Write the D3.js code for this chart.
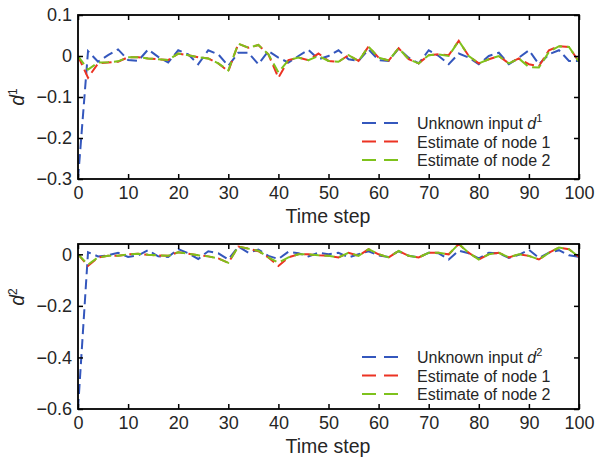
<!DOCTYPE html>
<html><head><meta charset="utf-8">
<script src="https://cdn.jsdelivr.net/npm/d3@7"></script>
<style>body{margin:0;background:#fff}svg{display:block;font-family:"Liberation Sans",Arial,sans-serif}</style>
</head><body><div id="c"></div>
<script>
const steps = d3.range(0, 101, 2);
const xTicks = [0,10,20,30,40,50,60,70,80,90,100];
const yTicks1 = [0.1, 0, -0.1, -0.2, -0.3];
const yTicks2 = [0, -0.2, -0.4, -0.6];
const legendNames = ["Unknown input ", "Estimate of node 1", "Estimate of node 2"];

const d1True = [-0.30,0.012,-0.014,0.002,0.016,-0.010,-0.012,0.016,-0.002,-0.016,0.014,0.004,-0.020,0.014,0.004,-0.024,0.008,0.008,-0.020,0.012,-0.004,-0.016,0.000,0.015,-0.008,0.000,0.014,-0.008,-0.012,0.016,-0.010,-0.012,0.018,-0.004,-0.018,0.014,0.000,-0.020,0.006,-0.004,-0.020,0.000,0.008,-0.020,-0.004,0.014,-0.020,0.004,0.014,-0.012,-0.012];
const d1Node1 = [0,-0.053,-0.018,-0.016,-0.014,-0.003,-0.003,-0.006,-0.008,-0.010,0.006,0.002,-0.003,-0.006,-0.018,-0.037,0.030,0.020,0.027,0.004,-0.053,-0.010,-0.004,-0.010,0.006,-0.012,-0.014,0.002,-0.012,0.023,-0.004,-0.011,0.019,-0.008,-0.018,0.002,0.004,0.002,0.037,0.000,-0.018,-0.008,0.000,-0.018,-0.006,-0.020,-0.025,0.014,0.024,0.022,-0.014];
const d1Node2 = [0,-0.033,-0.016,-0.015,-0.013,-0.003,-0.003,-0.006,-0.008,-0.010,0.006,0.002,-0.003,-0.006,-0.018,-0.035,0.030,0.020,0.027,0.004,-0.040,-0.010,-0.004,-0.010,0.000,-0.012,-0.014,0.002,-0.012,0.023,-0.004,-0.011,0.019,-0.008,-0.018,0.002,0.004,0.000,0.037,0.000,-0.018,-0.008,0.000,-0.018,-0.006,-0.027,-0.028,0.010,0.024,0.022,-0.014];

const d2True = [-0.6,0.008,-0.008,-0.004,0.006,-0.010,-0.004,0.016,-0.008,-0.010,0.020,0.004,-0.018,0.012,0.004,-0.020,0.030,0.006,0.018,-0.006,-0.018,0.010,0.004,-0.008,0.006,0.000,0.006,-0.012,0.000,0.012,-0.004,-0.010,0.012,-0.006,-0.012,0.006,0.004,-0.020,0.014,0.004,-0.016,0.006,0.004,-0.014,-0.002,0.018,-0.014,0.006,0.016,-0.004,-0.010];
const d2Node1 = [0,-0.045,-0.012,-0.006,-0.006,0.000,0.002,-0.002,-0.004,-0.006,0.008,0.002,-0.004,-0.008,-0.016,-0.033,0.030,0.022,0.012,-0.012,-0.045,-0.012,0.000,0.000,-0.004,-0.006,-0.012,0.006,-0.006,0.020,0.000,-0.012,0.013,-0.006,-0.012,0.006,0.006,0.000,0.040,0.006,-0.020,0.000,0.006,-0.012,0.000,-0.006,-0.020,0.006,0.026,0.020,-0.010];
const d2Node2 = [0,-0.040,-0.012,-0.006,-0.006,0.000,0.002,-0.002,-0.004,-0.006,0.008,0.002,-0.004,-0.008,-0.016,-0.033,0.030,0.022,0.014,-0.012,-0.032,-0.012,0.000,0.000,-0.004,-0.006,-0.012,0.006,-0.006,0.020,0.000,-0.012,0.013,-0.006,-0.012,0.006,0.006,0.000,0.040,0.006,-0.020,0.000,0.006,-0.012,0.000,-0.006,-0.020,0.006,0.026,0.020,-0.010];

const colors = ["#3457bd", "#ec3323", "#7ec21c"];
const W = 597, H = 462;
const TICK_FS = 18, LABEL_FS = 19.5, LEG_FS = 16;
const svg = d3.select("#c").append("svg").attr("width", W).attr("height", H);

function panel(cfg) {
  const x = d3.scaleLinear().domain([0, 100]).range([78, 579]);
  const y = d3.scaleLinear().domain(cfg.domain).range([cfg.bottom, cfg.top]);
  const g = svg.append("g");
  const clipId = "clip" + cfg.id;
  svg.append("clipPath").attr("id", clipId).append("rect")
    .attr("x", 78).attr("y", cfg.top).attr("width", 501).attr("height", cfg.bottom - cfg.top);
  const line = d3.line().x((d, i) => x(steps[i])).y(d => y(d));
  const lg = g.append("g").attr("clip-path", `url(#${clipId})`);
  cfg.series.forEach((s, k) => {
    lg.append("path").datum(s).attr("d", line).attr("fill", "none")
      .attr("stroke", colors[k]).attr("stroke-width", 2).attr("stroke-dasharray", "10,5");
  });
  const tick = 5;
  const ax = g.append("g");
  ax.append("g").attr("transform", `translate(0,${cfg.bottom})`)
    .call(d3.axisBottom(x).tickValues(xTicks).tickSizeInner(-tick).tickSizeOuter(0).tickPadding(7).tickFormat(d3.format("d")));
  ax.append("g").attr("transform", `translate(0,${cfg.top})`)
    .call(d3.axisTop(x).tickValues(xTicks).tickSizeInner(-tick).tickSizeOuter(0).tickFormat(""));
  ax.append("g").attr("transform", `translate(78,0)`)
    .call(d3.axisLeft(y).tickValues(cfg.yTicks).tickSizeInner(-tick).tickSizeOuter(0).tickPadding(6)
      .tickFormat(d => d === 0 ? "0" : (d < 0 ? "\u2212" + d3.format(".1f")(-d) : d3.format(".1f")(d))));
  ax.append("g").attr("transform", `translate(579,0)`)
    .call(d3.axisRight(y).tickValues(cfg.yTicks).tickSizeInner(-tick).tickSizeOuter(0).tickFormat(""));
  ax.selectAll(".domain").remove();
  ax.selectAll("line").attr("stroke", "#000").attr("stroke-width", 1.5);
  ax.selectAll("text").attr("font-size", TICK_FS).attr("fill", "#262626").attr("font-family", "Liberation Sans, Arial, sans-serif");
  g.append("rect").attr("x", 78).attr("y", cfg.top).attr("width", 501).attr("height", cfg.bottom - cfg.top)
    .attr("fill", "none").attr("stroke", "#000").attr("stroke-width", 1.8);
  g.append("text").attr("x", 328).attr("y", cfg.bottom + 44).attr("text-anchor", "middle")
    .attr("font-size", LABEL_FS).attr("fill", "#262626").text("Time step");
  const yl = g.append("text").attr("transform", `translate(24,${cfg.ylabelY}) rotate(-90)`)
    .attr("text-anchor", "middle").attr("font-size", LABEL_FS).attr("fill", "#262626");
  yl.append("tspan").attr("font-style", "italic").text("d");
  yl.append("tspan").attr("font-size", 12).attr("dy", -7).text(cfg.sup);
  cfg.legendY.forEach((ly, k) => {
    g.append("line").attr("x1", 362).attr("x2", 400).attr("y1", ly).attr("y2", ly)
      .attr("stroke", colors[k]).attr("stroke-width", 2).attr("stroke-dasharray", "14,8");
    const t = g.append("text").attr("x", 417).attr("y", ly + 6).attr("font-size", LEG_FS).attr("fill", "#262626");
    t.append("tspan").text(legendNames[k]);
    if (k === 0) {
      t.append("tspan").attr("font-style", "italic").text("d");
      t.append("tspan").attr("font-size", 11).attr("dy", -7).text(cfg.sup);
    }
  });
}

panel({id: 1, domain: [-0.3, 0.1], top: 15, bottom: 179, yTicks: yTicks1, series: [d1True, d1Node1, d1Node2], sup: "1", ylabelY: 97, legendY: [123, 141.5, 160]});
panel({id: 2, domain: [-0.6, 0.04], top: 244, bottom: 409, yTicks: yTicks2, series: [d2True, d2Node1, d2Node2], sup: "2", ylabelY: 297, legendY: [357, 375.5, 394]});
</script></body></html>
